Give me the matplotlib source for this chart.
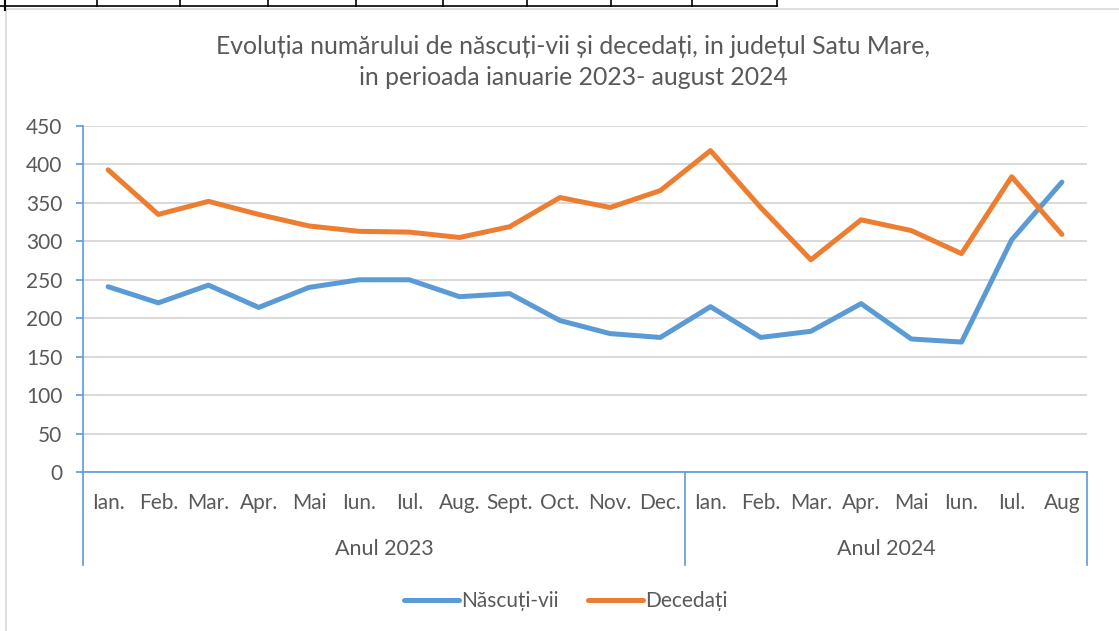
import matplotlib.pyplot as plt
from matplotlib.lines import Line2D
from matplotlib.patches import Rectangle
import matplotlib.transforms as mtransforms

plt.rcParams['font.family'] = ['Lato', 'DejaVu Sans']

# --- date ---
luni = ["Ian.", "Feb.", "Mar.", "Apr.", "Mai", "Iun.", "Iul.", "Aug.", "Sept.", "Oct.", "Nov.", "Dec.",
        "Ian.", "Feb.", "Mar.", "Apr.", "Mai", "Iun.", "Iul.", "Aug"]
ani = ["Anul 2023", "Anul 2024"]
luni_pe_an = [12, 8]
nascuti_vii = [241, 220, 243, 214, 240, 250, 250, 228, 232, 197, 180, 175,
               215, 175, 183, 219, 173, 169, 302, 377]
decedati = [393, 335, 352, 335, 320, 313, 312, 305, 319, 357, 344, 366,
            418, 344, 276, 328, 314, 284, 384, 309]

BLUE = "#5B9BD5"
ORANGE = "#ED7D31"
GREY = "#595959"

fig = plt.figure(figsize=(11.19, 6.31), dpi=100)
ax = fig.add_axes([83 / 1119, 1 - 472 / 631, (1087 - 83) / 1119, (472 - 126) / 631])

x = list(range(len(luni)))
ax.plot(x, nascuti_vii, color=BLUE, lw=3.6, label="Născuți-vii", solid_capstyle="round")
ax.plot(x, decedati, color=ORANGE, lw=3.6, label="Decedați", solid_capstyle="round")

ax.set_xlim(-0.5, len(luni) - 0.5)
ax.set_ylim(0, 450)
ax.set_yticks(range(0, 451, 50))
ax.yaxis.grid(True, color="#D9D9D9", lw=1.4)
ax.set_axisbelow(True)

for s in ["top", "right"]:
    ax.spines[s].set_visible(False)
ax.spines["left"].set_color(BLUE)
ax.spines["bottom"].set_color(BLUE)
ax.spines["left"].set_linewidth(1.2)
ax.spines["bottom"].set_linewidth(1.2)

ax.tick_params(axis="y", colors=BLUE, labelcolor=GREY, labelsize=15, length=5, width=1.2, pad=10)
ax.set_xticks(x, luni)
ax.tick_params(axis="x", length=0, labelcolor=GREY, labelsize=15, pad=15)

# axa cu doua niveluri
trans = mtransforms.blended_transform_factory(ax.transData, ax.transAxes)
margini = [-0.5]
for n in luni_pe_an:
    margini.append(margini[-1] + n)
for m in margini:
    ax.plot([m, m], [0, -0.269], color=BLUE, lw=1.2, transform=trans, clip_on=False)
for i, an in enumerate(ani):
    ax.text((margini[i] + margini[i + 1]) / 2, -0.2225, an, transform=trans,
            ha="center", va="center", fontsize=15.5, color=GREY)

fig.text(0.512, 1 - 62 / 631,
         "Evoluția numărului de născuți-vii și decedați, in județul Satu Mare,\nin perioada ianuarie 2023- august 2024",
         ha="center", va="center", fontsize=17.8, color=GREY, linespacing=1.45)

leg = ax.legend(loc="center", bbox_to_anchor=(0.481, -0.373), ncol=2, frameon=False,
                fontsize=15, handlelength=2.65, handletextpad=0.1, columnspacing=1.4,
                labelcolor=GREY)
for h in leg.get_lines():
    h.set_solid_capstyle("round")

# chenarul graficului si liniile tabelului de deasupra
fig.patches.append(Rectangle((6 / 1119, -0.1), 1.2, 1.1 - 9 / 631, transform=fig.transFigure,
                             fill=False, edgecolor="#D9D9D9", lw=1.2))
fig.add_artist(Line2D([0, 777 / 1119], [1 - 6 / 631, 1 - 6 / 631], color="black", lw=1.2))
for xv in [97, 180, 268, 356, 443, 527, 611, 692, 777]:
    fig.add_artist(Line2D([xv / 1119, xv / 1119], [1 - 6 / 631, 1], color="black", lw=1.2))
fig.add_artist(Line2D([5 / 1119, 5 / 1119], [1 - 10 / 631, 1], color="black", lw=1.5))

fig.savefig("out.png", dpi=100)
